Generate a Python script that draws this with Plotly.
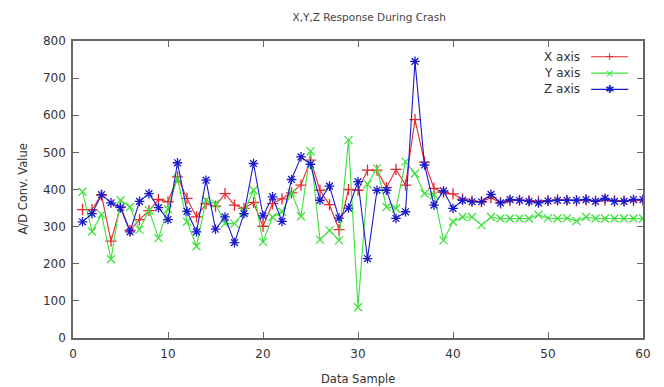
import plotly.graph_objects as go

samples = list(range(1, 61))
x_axis = [346, 346, 385, 261, 353, 290, 319, 343, 373, 367, 434, 376, 326, 362, 355,
          389, 358, 349, 365, 301, 362, 375, 391, 412, 479, 398, 359, 292, 400, 398,
          452, 452, 405, 454, 412, 588, 474, 403, 392, 388, 374, 369, 367, 378, 364,
          370, 371, 370, 368, 370, 372, 371, 370, 372, 369, 371, 370, 369, 370, 371]
y_axis = [394, 287, 333, 212, 371, 353, 292, 344, 269, 347, 430, 313, 247, 371, 362,
          308, 308, 340, 398, 259, 326, 340, 391, 328, 503, 265, 290, 263, 533, 83,
          414, 457, 353, 349, 475, 443, 389, 385, 263, 313, 326, 326, 304, 326, 322,
          322, 322, 322, 332, 323, 322, 323, 315, 326, 322, 322, 322, 322, 322, 322]
z_axis = [313, 335, 386, 364, 351, 286, 368, 389, 351, 319, 472, 341, 286, 425, 293,
          326, 257, 335, 470, 329, 380, 314, 427, 488, 468, 371, 409, 323, 350, 421,
          214, 398, 398, 322, 340, 745, 466, 358, 396, 349, 371, 367, 367, 387, 364,
          373, 371, 368, 364, 369, 371, 371, 371, 373, 368, 376, 368, 368, 373, 373]

series = [
    ("X axis", x_axis, "#e8262b", "cross-thin"),
    ("Y axis", y_axis, "#3be23b", "x-thin"),
    ("Z axis", z_axis, "#1a1acc", "asterisk"),
]

fig = go.Figure()
for name, vals, col, sym in series:
    fig.add_trace(go.Scatter(
        x=samples, y=vals, mode="lines+markers", name=name,
        line=dict(color=col, width=1.1),
        marker=dict(symbol=sym, size=8, line=dict(color=col, width=1.3), color=col),
        showlegend=False,
    ))

# gnuplot-style legend: text right-aligned, sample line to the right
legend_y = [0.947, 0.892, 0.837]
glyphs = ["+", "\u00d7", "\u2731"]
for (name, vals, col, sym), ly, g in zip(series, legend_y, glyphs):
    fig.add_annotation(xref="paper", yref="paper", x=0.893, y=ly, text=name,
                       showarrow=False, xanchor="right", yanchor="middle",
                       font=dict(size=12, color="#333333", family="DejaVu Sans"))
    fig.add_shape(type="line", xref="paper", yref="paper", x0=0.909, x1=0.974,
                  y0=ly, y1=ly, line=dict(color=col, width=1.1))
    fig.add_annotation(xref="paper", yref="paper", x=0.9415, y=ly, text=g,
                       showarrow=False, xanchor="center", yanchor="middle",
                       font=dict(size=11, color=col, family="DejaVu Sans"))

# axis titles placed like gnuplot
fig.add_annotation(xref="paper", yref="paper", x=0.5, y=0, yshift=-41,
                   text="Data Sample", showarrow=False, xanchor="center", yanchor="middle",
                   font=dict(size=11.5, color="#333333", family="DejaVu Sans"))
fig.add_annotation(xref="paper", yref="paper", x=0, y=0.5, xshift=-51,
                   text="A/D Conv. Value", showarrow=False, textangle=-90,
                   xanchor="center", yanchor="middle",
                   font=dict(size=11.5, color="#333333", family="DejaVu Sans"))

axis_common = dict(showline=True, linecolor="#666666", linewidth=1.5, mirror="ticks",
                   ticks="inside", ticklen=6, tickcolor="#666666", showgrid=False,
                   zeroline=False, automargin=False,
                   tickfont=dict(size=12, color="#333333", family="DejaVu Sans"))

fig.update_layout(
    width=664, height=387,
    margin=dict(l=73, r=21, t=41, b=49),
    paper_bgcolor="white", plot_bgcolor="white",
    title=dict(text="X,Y,Z Response During Crash", x=0.556, xanchor="center",
               y=0.956, yanchor="middle",
               font=dict(size=10.5, color="#444444", family="DejaVu Sans")),
    xaxis=dict(range=[0, 60], dtick=10, ticklabelstandoff=4, **axis_common),
    yaxis=dict(range=[0, 800], dtick=100, ticklabelstandoff=3, **axis_common),
)

fig.write_html("out.html")
